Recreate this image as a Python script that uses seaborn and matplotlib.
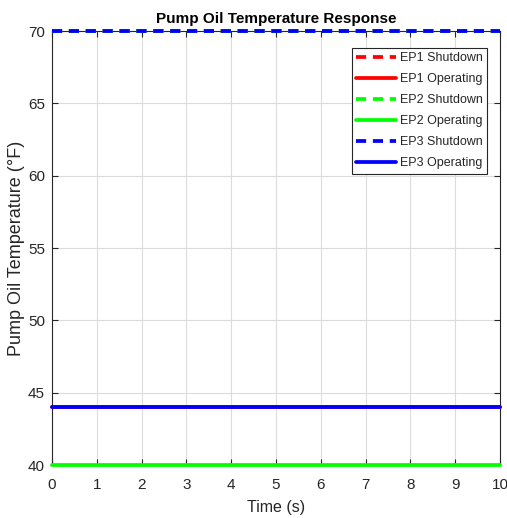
import matplotlib
matplotlib.use("Agg")
import matplotlib.pyplot as plt
import seaborn as sns
import pandas as pd

# Time base and pump oil temperatures (°F) for each equipment piece / mode
time_s = [0, 1, 2, 3, 4, 5, 6, 7, 8, 9, 10]
ep1_shutdown = [70, 70, 70, 70, 70, 70, 70, 70, 70, 70, 70]
ep1_operating = [44, 44, 44, 44, 44, 44, 44, 44, 44, 44, 44]
ep2_shutdown = [70, 70, 70, 70, 70, 70, 70, 70, 70, 70, 70]
ep2_operating = [40, 40, 40, 40, 40, 40, 40, 40, 40, 40, 40]
ep3_shutdown = [70, 70, 70, 70, 70, 70, 70, 70, 70, 70, 70]
ep3_operating = [44, 44, 44, 44, 44, 44, 44, 44, 44, 44, 44]

series = [
    ("EP1 Shutdown", ep1_shutdown, "#ff0000", "--"),
    ("EP1 Operating", ep1_operating, "#ff0000", "-"),
    ("EP2 Shutdown", ep2_shutdown, "#00ff00", "--"),
    ("EP2 Operating", ep2_operating, "#00ff00", "-"),
    ("EP3 Shutdown", ep3_shutdown, "#0000ff", "--"),
    ("EP3 Operating", ep3_operating, "#0000ff", "-"),
]

sns.set_theme(style="white")
plt.rcParams["font.family"] = ["Liberation Sans", "DejaVu Sans"]

fig = plt.figure(figsize=(5.07, 5.18), dpi=100)
ax = fig.add_axes([0.1026, 0.1023, 0.8834, 0.8377])

LW = 2.7
DASH = [2.7, 1.8]

for name, vals, color, ls in series:
    df = pd.DataFrame({"Time": time_s, "Temp": vals})
    sns.lineplot(data=df, x="Time", y="Temp", ax=ax, color=color,
                 linestyle=ls, linewidth=LW, label=name, clip_on=False,
                 zorder=3)

for line in ax.get_lines():
    if line.get_linestyle() == "--":
        line.set_dashes(DASH)

ax.set_xlim(0, 10)
ax.set_ylim(40, 70)
ax.set_xticks(range(0, 11))
ax.set_yticks([40, 45, 50, 55, 60, 65, 70])
ax.grid(True, color="#dcdcdc", linewidth=0.8)
ax.set_axisbelow(True)

for side in ["top", "right", "bottom", "left"]:
    ax.spines[side].set_visible(True)
    ax.spines[side].set_color("#262626")
    ax.spines[side].set_linewidth(0.8)
    ax.spines[side].set_zorder(2.5)

ax.tick_params(axis="both", which="both", direction="in", length=4,
               width=0.8, colors="#262626", labelsize=11,
               top=True, right=True, bottom=True, left=True)
ax.tick_params(axis="x", pad=9)
ax.tick_params(axis="y", pad=5)

ax.set_xlabel("Time (s)", fontsize=11.5, color="#262626", labelpad=6)
ax.set_ylabel("Pump Oil Temperature (°F)", fontsize=13, color="#262626",
              labelpad=2)
ax.set_title("Pump Oil Temperature Response", fontsize=11, fontweight="bold",
             color="black", pad=6)

leg = ax.legend(loc="upper right", bbox_to_anchor=(0.971, 0.961),
                borderaxespad=0, fontsize=9, frameon=True, fancybox=False,
                handlelength=3.2, handletextpad=0.3, borderpad=0.35,
                labelspacing=0.72)
leg.get_frame().set_edgecolor("#262626")
leg.get_frame().set_linewidth(0.8)
leg.get_frame().set_alpha(1)
for h in leg.get_lines():
    h.set_linewidth(LW)
    if h.get_linestyle() == "--":
        h.set_dashes(DASH)

fig.savefig("out.png", dpi=100)
